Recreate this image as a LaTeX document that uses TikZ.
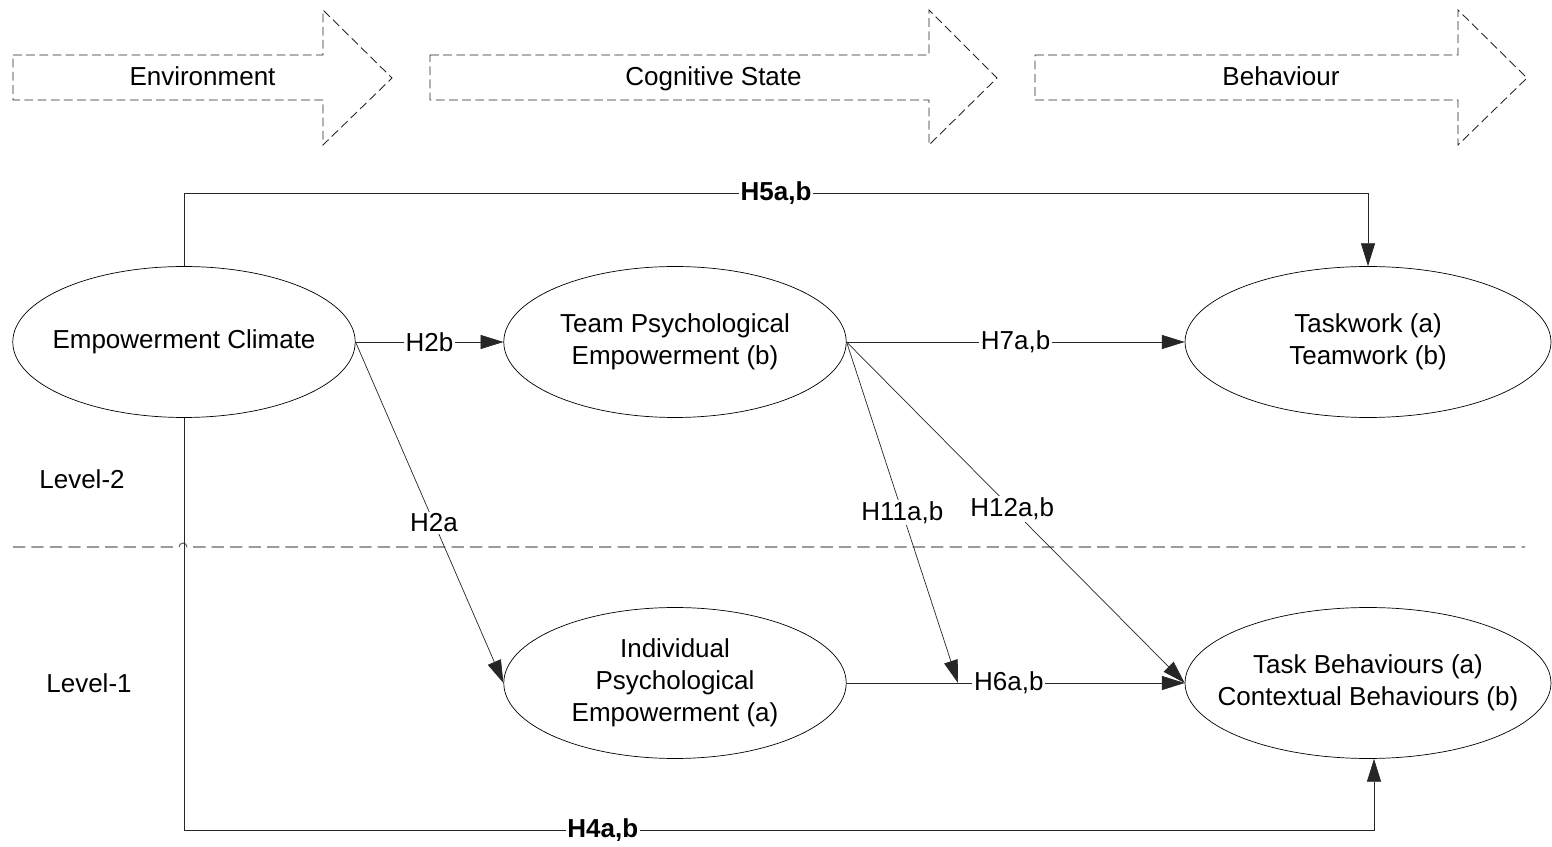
\documentclass[tikz,border=0pt]{standalone}
\usepackage{fontspec}
\setmainfont{Liberation Sans}
\usetikzlibrary{arrows.meta,shapes.geometric}

\tikzset{
  construct/.style={draw,ellipse,thin,minimum width=6.85cm,minimum height=3.02cm,
    align=center,inner xsep=-1cm,inner ysep=-0.3cm},
  hyp/.style={draw=black!85,thin,-{Triangle[length=13pt,width=8pt]}},
  hlabel/.style={fill=white,inner sep=1pt},
  stage/.style={draw=black!85,line width=0.5pt,dash pattern=on 5pt off 2.5pt},
  divider/.style={draw=black!60,line width=0.6pt,dash pattern=on 7pt off 3.5pt}
}

\begin{document}
\begin{tikzpicture}[x=0.02cm,y=-0.02cm,font=\fontsize{14.8}{18.3}\selectfont]
\useasboundingbox (0,0) rectangle (1552,847);

%%% stages along the top %%%
\foreach \xa/\xh/\xt/\txt in {13/323/392/Environment,430/929/997/Cognitive State,1035/1458/1527/Behaviour}
{
  \draw[stage] (\xa,55) -- (\xh,55) -- (\xh,10) -- (\xt,78) -- (\xh,145) -- (\xh,100) -- (\xa,100) -- cycle;
  \node[anchor=base] at ({(\xa+\xt)/2},86) {\txt};
}

  \node (EC) at (184,342) [construct] {Empowerment Climate};
  \node (TPE) at (675,342) [construct] {Team Psychological\\Empowerment (b)};
  \node (TW) at (1368,342) [construct,minimum width=7.32cm] {Taskwork (a)\\Teamwork (b)};
  \node (IPE) at (675,683) [construct] {Individual\\Psychological\\Empowerment (a)};
  \node (TB) at (1368,683) [construct,minimum width=7.32cm] {Task Behaviours (a)\\Contextual Behaviours (b)};

  \node (L2) at (82,479) {Level-2};
  \node (L1) at (89,683) {Level-1};

  \coordinate (top) at (0,193);
  \coordinate (bot) at (0,830);
  \coordinate (h11end) at (958,683);

%%% level divider, with a small jump over the H4 line %%%
\draw[divider] (13,547) -- (179,547) arc (180:360:4) -- (1525,547);

\draw[hyp] (EC.north) -- (EC.north |- top) -| (TW.north)
    node [hlabel,pos=0.25] {\textbf{H5a,b}};
\draw[hyp] (EC.east) -- (TPE.west) node [hlabel,midway] {H2b};
\draw[hyp] (TPE.east) -- (TW.west) node [hlabel,midway] {H7a,b};
\draw[hyp] (EC.east) -- (IPE.west) node [hlabel,pos=0.53] {H2a};
\draw[hyp] (TPE.east) -- (h11end) node [hlabel,pos=0.5] {H11a,b};
\draw[hyp] (TPE.east) -- (TB.west) node [hlabel,pos=0.49] {H12a,b};
\draw[hyp] (IPE.east) -- (TB.west) node [hlabel,pos=0.48] {H6a,b};
\draw[hyp] (EC.south) -- (EC.south |- bot) -| ([xshift=0.12cm]TB.south)
    node [hlabel,pos=0.176] {\textbf{H4a,b}};
\end{tikzpicture}
\end{document}
